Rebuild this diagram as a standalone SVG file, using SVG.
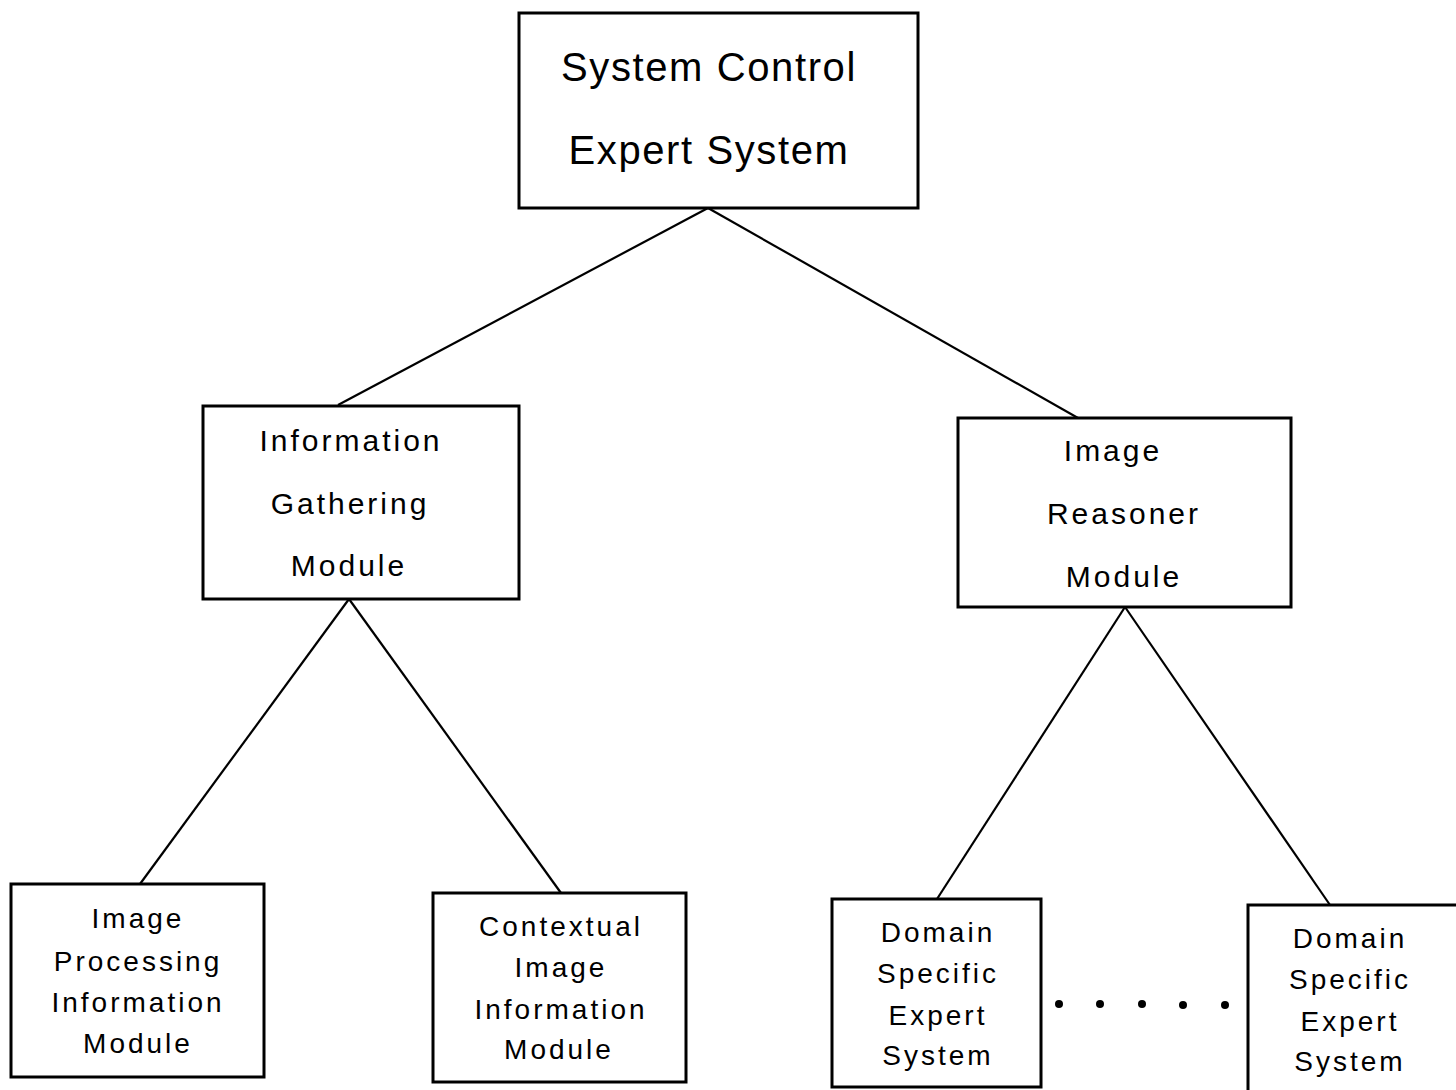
<svg xmlns="http://www.w3.org/2000/svg" width="1456" height="1090" viewBox="0 0 1456 1090">
<style>
.box{fill:#fff;stroke:#000;stroke-width:3}
.edge{stroke:#000;stroke-width:2.2;fill:none}
text{font-family:"Liberation Sans","DejaVu Sans",sans-serif;fill:#000;text-anchor:middle;dominant-baseline:central}
.t1{font-size:40px;letter-spacing:1.6px}
.t2{font-size:30px;letter-spacing:3px}
.t3{font-size:28px;letter-spacing:3px}
</style>
<g id="connectors">
<line class="edge" x1="708" y1="208" x2="338" y2="405"/>
<line class="edge" x1="708" y1="208" x2="1078" y2="418"/>
<line class="edge" x1="349" y1="599" x2="140" y2="884"/>
<line class="edge" x1="349" y1="599" x2="561" y2="893"/>
<line class="edge" x1="1125" y1="607" x2="937" y2="899"/>
<line class="edge" x1="1125" y1="607" x2="1330" y2="905"/>
</g>
<g id="system-control">
<rect class="box" x="519" y="13" width="399" height="195"/>
<text class="t1" x="709" y="67">System Control</text>
<text class="t1" x="709" y="150">Expert System</text>
</g>
<g id="info-gathering">
<rect class="box" x="203" y="406" width="316" height="193"/>
<text class="t2" x="351" y="440">Information</text>
<text class="t2" x="350" y="503">Gathering</text>
<text class="t2" x="349" y="565">Module</text>
</g>
<g id="image-reasoner">
<rect class="box" x="958" y="418" width="333" height="189"/>
<text class="t2" x="1113" y="450">Image</text>
<text class="t2" x="1124" y="513">Reasoner</text>
<text class="t2" x="1124" y="576">Module</text>
</g>
<g id="image-processing">
<rect class="box" x="11" y="884" width="253" height="193"/>
<text class="t3" x="138" y="918">Image</text>
<text class="t3" x="138" y="961">Processing</text>
<text class="t3" x="138" y="1002">Information</text>
<text class="t3" x="138" y="1043">Module</text>
</g>
<g id="contextual-image">
<rect class="box" x="433" y="893" width="253" height="189"/>
<text class="t3" x="561" y="926">Contextual</text>
<text class="t3" x="561" y="967">Image</text>
<text class="t3" x="561" y="1009">Information</text>
<text class="t3" x="559" y="1049">Module</text>
</g>
<g id="domain-1">
<rect class="box" x="832" y="899" width="209" height="188"/>
<text class="t3" x="938" y="932">Domain</text>
<text class="t3" x="938" y="973">Specific</text>
<text class="t3" x="938" y="1015">Expert</text>
<text class="t3" x="938" y="1055">System</text>
</g>
<g id="domain-n">
<rect class="box" x="1248" y="905" width="210" height="190"/>
<text class="t3" x="1350" y="938">Domain</text>
<text class="t3" x="1350" y="979">Specific</text>
<text class="t3" x="1350" y="1021">Expert</text>
<text class="t3" x="1350" y="1061">System</text>
</g>
<g id="ellipsis">
<circle cx="1059" cy="1004" r="4"/>
<circle cx="1100" cy="1004" r="4"/>
<circle cx="1142" cy="1004" r="4"/>
<circle cx="1183" cy="1005" r="4"/>
<circle cx="1225" cy="1005" r="4"/>
</g>
</svg>
